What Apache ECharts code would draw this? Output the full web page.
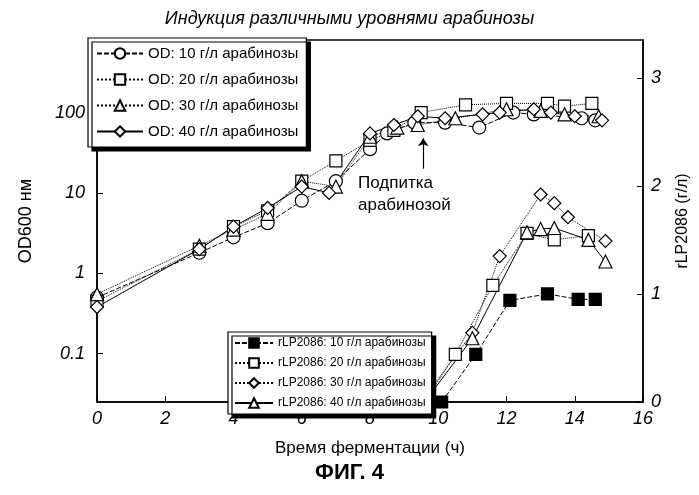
<!DOCTYPE html>
<html>
<head>
<meta charset="utf-8">
<script src="https://cdn.jsdelivr.net/npm/echarts@6/dist/echarts.min.js"></script>
<style>html,body{margin:0;padding:0;background:#fff}#chart{width:699px;height:495px}</style>
</head>
<body>
<div id="chart"></div>
<script>
// OD600 (log scale, left axis)
const od10 = [[0,0.5],[3,1.8],[4,2.8],[5,4.2],[6,8],[7,14],[8,35],[8.5,55],[9.3,75],[10.2,75],[11.2,65],[12.2,100],[12.8,95],[14.2,85],[14.6,80]];
const od20 = [[0,0.45],[3,2],[4,3.8],[5,6],[6,14],[7,25],[8,45],[8.7,60],[9.5,100],[10.8,125],[12,130],[13.2,130],[13.7,120],[14.5,130]];
const od30 = [[0,0.55],[3,2.2],[4,3.5],[5,5.5],[6,14],[7,12],[8,50],[8.8,65],[9.4,70],[10.5,85],[12,110],[13,105],[13.7,95],[14.7,90]];
const od40 = [[0,0.38],[3,2],[4,3.8],[5,6.5],[6,12],[6.8,10],[8,55],[8.7,70],[9.4,90],[10.2,85],[11.3,95],[11.8,100],[12.8,110],[13.3,100],[14,90],[14.8,80]];
// rLP2086 г/л (right axis)
const rlp10 = [[10.1,0],[11.1,0.44],[12.1,0.94],[13.2,1.0],[14.1,0.95],[14.6,0.95]];
const rlp20 = [[9.6,0],[10.5,0.44],[11.6,1.08],[12.6,1.56],[13.4,1.5],[14.4,1.54]];
const rlp30 = [[9.5,0],[11.0,0.64],[11.8,1.35],[13.0,1.92],[13.4,1.84],[13.8,1.71],[14.9,1.49]];
const rlp40 = [[9.6,0],[11.0,0.59],[12.6,1.57],[13.0,1.6],[13.4,1.61],[14.4,1.5],[14.9,1.3]];
const xTicks = [0,2,4,6,8,10,12,14,16];

const chart = echarts.init(document.getElementById('chart'));
const F = 'Liberation Sans';
function s(name, data, sym, dash, axis, fill) {
  return {
    name: name, type: 'line', data: data, yAxisIndex: axis,
    symbol: sym, symbolSize: sym === 'rect' ? 12 : 13,
    lineStyle: {color: '#000', width: 1, type: dash},
    itemStyle: {color: fill || '#fff', borderColor: '#000', borderWidth: 1.2},
    z: 3
  };
}
const series = [
  s('OD: 10 г/л арабинозы', od10, 'circle', [5,2], 0),
  s('OD: 20 г/л арабинозы', od20, 'rect', 'dotted', 0),
  s('OD: 30 г/л арабинозы', od30, 'triangle', 'dotted', 0),
  s('OD: 40 г/л арабинозы', od40, 'diamond', 'solid', 0),
  s('rLP2086: 10 г/л арабинозы', rlp10, 'rect', [5,2], 1, '#000'),
  s('rLP2086: 20 г/л арабинозы', rlp20, 'rect', 'dotted', 1),
  s('rLP2086: 30 г/л арабинозы', rlp30, 'diamond', 'dotted', 1),
  s('rLP2086: 40 г/л арабинозы', rlp40, 'triangle', 'solid', 1)
];
series[0].markLine = {
  silent: true, symbol: ['none', 'arrow'], symbolSize: 8, label: {show: false},
  lineStyle: {color: '#000', width: 1.2, type: 'solid'},
  data: [[{coord: [9.56, 20]}, {coord: [9.56, 48]}]]
};
const legendBase = {
  orient: 'vertical', backgroundColor: '#fff', borderColor: '#000', borderWidth: 1.2,
  shadowColor: '#000', shadowOffsetX: 4, shadowOffsetY: 4, shadowBlur: 0,
  itemWidth: 46, itemHeight: 13, itemGap: 11, padding: [8, 8, 8, 8],
  textStyle: {fontFamily: F, fontSize: 15, color: '#000'}, selectedMode: false
};
chart.setOption({
  animation: false,
  textStyle: {fontFamily: F},
  title: {
    text: 'Индукция различными уровнями арабинозы', left: 'center', top: 5,
    textStyle: {fontFamily: F, fontSize: 18, fontStyle: 'italic', fontWeight: 'normal', color: '#000'}
  },
  legend: [
    Object.assign({}, legendBase, {left: 88, top: 38, data: series.slice(0, 4).map(d => d.name)}),
    Object.assign({}, legendBase, {left: 228, top: 332, itemGap: 8, itemWidth: 38, itemHeight: 12, padding: [5, 6, 5, 6],
      textStyle: {fontFamily: F, fontSize: 12, color: '#000'}, data: series.slice(4).map(d => d.name)})
  ],
  grid: {left: 97, right: 52, top: 40, bottom: 93, show: true, borderColor: '#000', borderWidth: 1.5},
  xAxis: {
    type: 'value', min: 0, max: 16, interval: 2,
    name: 'Время ферментации (ч)', nameLocation: 'middle', nameGap: 38,
    nameTextStyle: {fontSize: 17, color: '#000'},
    axisLine: {lineStyle: {color: '#000', width: 1.5}},
    axisTick: {inside: true, length: 6, lineStyle: {color: '#000'}},
    axisLabel: {fontSize: 18, fontStyle: 'italic', color: '#000',
      formatter: v => xTicks.includes(v) ? String(v) : ''},
    splitLine: {show: false}
  },
  yAxis: [{
    type: 'log', min: 0.025, max: 800, logBase: 10,
    name: 'OD600 нм', nameLocation: 'middle', nameGap: 62, nameRotate: 90,
    nameTextStyle: {fontSize: 18, color: '#000'},
    axisLine: {show: true, lineStyle: {color: '#000', width: 1.5}},
    axisTick: {inside: true, length: 6, lineStyle: {color: '#000'}},
    axisLabel: {fontSize: 18, fontStyle: 'italic', color: '#000', margin: 12, showMinLabel: false, showMaxLabel: false,
      formatter: v => String(+v.toPrecision(2))},
    splitLine: {show: false}
  }, {
    type: 'value', min: 0, max: 3.35, interval: 1,
    name: 'rLP2086 (г/л)', nameLocation: 'middle', nameGap: 32, nameRotate: 90,
    nameTextStyle: {fontSize: 16, color: '#000'},
    axisLine: {show: true, lineStyle: {color: '#000', width: 1.5}},
    axisTick: {inside: true, length: 6, lineStyle: {color: '#000'}},
    axisLabel: {fontSize: 18, fontStyle: 'italic', color: '#000', showMaxLabel: false},
    splitLine: {show: false}
  }],
  graphic: [
    {type: 'text', left: 358, top: 172, style: {text: 'Подпитка\nарабинозой', fontFamily: F, fontSize: 17, lineHeight: 22, align: 'center', fill: '#000'}},
    {type: 'text', left: 'center', top: 462, style: {text: 'ФИГ. 4', fontFamily: F, fontSize: 22, fontWeight: 'bold', fill: '#000'}}
  ],
  series: series
});
</script>
</body>
</html>
